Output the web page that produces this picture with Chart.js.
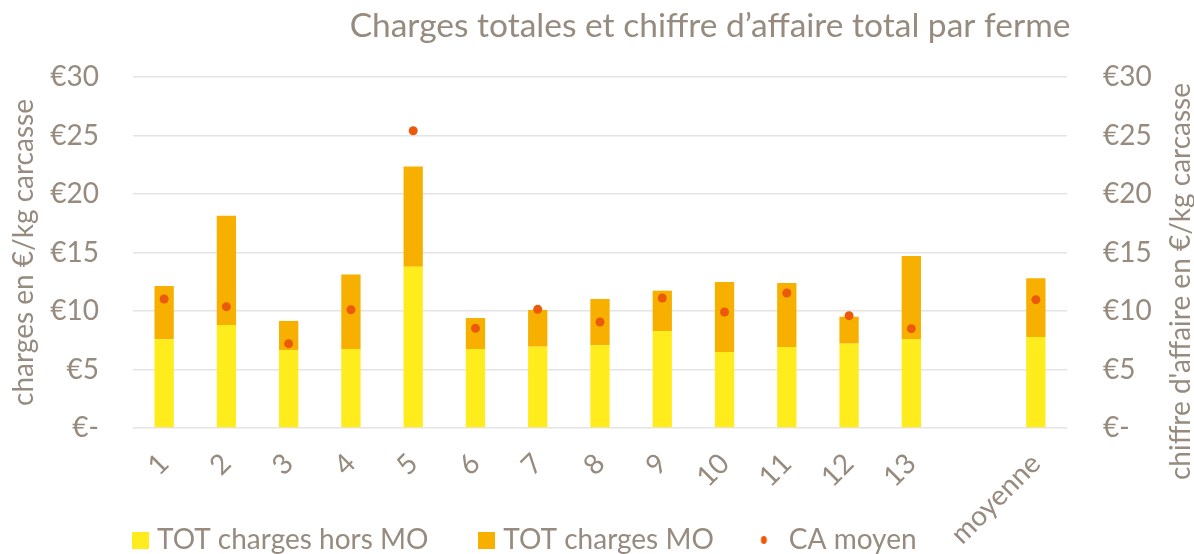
<!DOCTYPE html>
<html><head><meta charset="utf-8">
<script src="https://cdn.jsdelivr.net/npm/chart.js@4.4.0/dist/chart.umd.min.js"></script>
<style>html,body{margin:0;padding:0;background:#fff}#wrap{width:1194px;height:554px}canvas{display:block}</style>
</head><body><div id="wrap"><canvas id="c" width="1194" height="554"></canvas></div>
<script>
const categories = ['1','2','3','4','5','6','7','8','9','10','11','12','13','','moyenne'];
const chargesHorsMO = [7.58, 8.80, 6.67, 6.75, 13.79, 6.75, 6.95, 7.07, 8.29, 6.50, 6.92, 7.21, 7.60, null, 7.78];
const chargesMO     = [4.56, 9.35, 2.48, 6.38, 8.57, 2.65, 3.14, 3.96, 3.45, 5.98, 5.47, 2.30, 7.10, null, 5.01];
const caMoyen       = [11.03, 10.37, 7.21, 10.11, 25.41, 8.52, 10.14, 9.06, 11.11, 9.91, 11.54, 9.60, 8.49, null, 10.97];
const yTickLabels = ['€-', '€5', '€10', '€15', '€20', '€25', '€30'];
const seriesNames = ['TOT charges hors MO', 'TOT charges MO', 'CA moyen'];
const chartTitle = 'Charges totales et chiffre d’affaire total par ferme';
const leftAxisTitle = 'charges en €/kg carcasse';
const rightAxisTitle = "chiffre d'affaire en €/kg carcasse";

const YELLOW = '#FFEC1C', ORANGE = '#F8B000', DOT = '#EA5A0A', TEXT = '#968B7E', GRID = '#E4E4E4';
const FONT = 'Lato';

function swatch(w, h, draw) {
  const c = document.createElement('canvas'); c.width = w; c.height = h;
  draw(c.getContext('2d')); return c;
}
const legendImgs = [
  swatch(17, 17, g => { g.fillStyle = YELLOW; g.fillRect(0, 0, 17, 17); }),
  swatch(17, 17, g => { g.fillStyle = ORANGE; g.fillRect(0, 0, 17, 17); }),
  swatch(30, 12, g => { g.fillStyle = DOT; g.beginPath(); g.ellipse(6.5, 6, 3, 4, 0, 0, Math.PI * 2); g.fill(); })
];

const layoutHack = {
  id: 'layoutHack',
  afterLayout(chart) {
    const tb = chart.titleBlock;
    if (tb) { tb.left = 710 - 520; tb.right = 710 + 520; }
    const lg = chart.legend;
    if (lg) { const p = lg.options.labels.padding; lg.left = 138 - p; lg.top = 541 - 15 - p; }
  },
  afterDraw(chart) {
    const ctx = chart.ctx;
    ctx.save();
    ctx.font = '28px ' + FONT;
    ctx.fillStyle = TEXT;
    ctx.translate(1181, 83);
    ctx.rotate(-Math.PI / 2);
    ctx.textAlign = 'right';
    ctx.textBaseline = 'middle';
    ctx.fillText(rightAxisTitle, 0, 0);
    ctx.restore();
  }
};

function build() {
  new Chart(document.getElementById('c'), {
    data: {
      labels: categories,
      datasets: [
        { type: 'bar', label: seriesNames[0], data: chargesHorsMO, backgroundColor: YELLOW, stack: 's', yAxisID: 'y', order: 1, categoryPercentage: 1, barPercentage: 0.31 },
        { type: 'bar', label: seriesNames[1], data: chargesMO, backgroundColor: ORANGE, stack: 's', yAxisID: 'y', order: 1, categoryPercentage: 1, barPercentage: 0.31 },
        { type: 'line', label: seriesNames[2], data: caMoyen, yAxisID: 'y1', showLine: false, pointRadius: 4.5, pointHoverRadius: 4.5, pointBackgroundColor: DOT, pointBorderWidth: 0, borderColor: DOT, order: 0 }
      ]
    },
    options: {
      responsive: false,
      animation: false,
      devicePixelRatio: 1,
      layout: { padding: 0 },
      plugins: {
        tooltip: { enabled: false },
        title: { display: true, text: chartTitle, color: TEXT, font: { family: FONT, size: 33.5, weight: 'normal' }, padding: { top: 6, bottom: 30.8 }, align: 'center' },
        legend: {
          position: 'bottom', align: 'start', maxHeight: 1,
          labels: {
            color: TEXT, font: { family: FONT, size: 28 }, padding: 56,
            usePointStyle: true, pointStyleWidth: 5,
            generateLabels: chart => chart.data.datasets.map((ds, i) => ({
              text: ds.label, pointStyle: legendImgs[i], datasetIndex: i, hidden: false,
              fillStyle: 'transparent', strokeStyle: 'transparent', lineWidth: 0, fontColor: TEXT
            }))
          }
        }
      },
      scales: {
        x: {
          stacked: true,
          grid: { display: false },
          border: { display: false },
          ticks: { color: TEXT, font: { family: FONT, size: 28 }, minRotation: 45, maxRotation: 45, autoSkip: false, padding: 11 },
          afterFit: s => { s.height = 125; }
        },
        y: {
          position: 'left', stacked: true, min: 0, max: 30,
          grid: { color: GRID, lineWidth: 1.5, drawTicks: false },
          border: { display: false },
          ticks: { stepSize: 5, color: TEXT, font: { family: FONT, size: 28 }, padding: 34, callback: (v, i) => yTickLabels[i] },
          title: { display: true, text: leftAxisTitle, color: TEXT, font: { family: FONT, size: 28 }, padding: { top: 7, bottom: 0 } },
          afterFit: s => { s.width = 133; }
        },
        y1: {
          position: 'right', min: 0, max: 30,
          grid: { display: false, drawTicks: false },
          border: { display: false },
          ticks: { stepSize: 5, color: TEXT, font: { family: FONT, size: 28 }, padding: 36, callback: (v, i) => yTickLabels[i] },
          afterFit: s => { s.width = 127; }
        }
      }
    },
    plugins: [layoutHack]
  });
}
Promise.all([document.fonts.load('28px Lato'), document.fonts.load('33.5px Lato')]).then(build, build);
</script>
</body></html>
